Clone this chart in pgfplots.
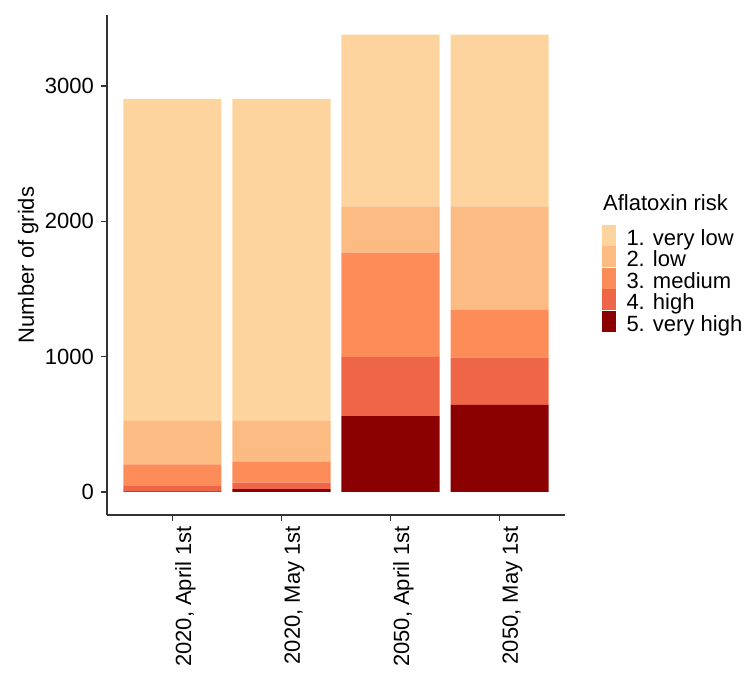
\documentclass[border=0pt]{standalone}
\usepackage{fontspec}
\setmainfont{Liberation Sans}
\usepackage{pgfplots}
\pgfplotsset{compat=1.18}
\definecolor{cVL}{HTML}{FDD49E}
\definecolor{cL}{HTML}{FDBB84}
\definecolor{cM}{HTML}{FC8D59}
\definecolor{cH}{HTML}{EF6548}
\definecolor{cVH}{HTML}{8B0000}
\definecolor{axcol}{HTML}{333333}
\begin{document}
\fontsize{22pt}{26pt}\selectfont
\begin{tikzpicture}[x=1pt,y=1pt]
\path[use as bounding box] (0,0) rectangle (750,679);
\begin{axis}[
  at={(107pt,164pt)}, anchor=south west,
  scale only axis, width=458pt, height=500pt,
  ybar stacked, bar width=0.9,
  xmin=-0.6, xmax=3.6, ymin=-170, ymax=3525,
  axis x line*=bottom, axis y line*=left,
  axis line style={axcol, line width=1.4pt},
  every tick/.style={axcol, line width=1.2pt},
  tick align=outside, major tick length=6pt,
  xtick={0,1,2,3},
  xticklabels={{2020, April 1st},{2020, May 1st},{2050, April 1st},{2050, May 1st}},
  ytick={0,1000,2000,3000},
  /pgf/number format/assume math mode=true,
  /pgf/number format/1000 sep={},
  tick label style={font=\fontsize{22pt}{26pt}\selectfont, text=black},
  xticklabel style={xshift=13pt, yshift=-5pt, rotate=90, anchor=east, inner sep=0pt},
  yticklabel style={anchor=east, inner sep=0pt, xshift=-7pt},
  ylabel={Number of grids},
  every axis y label/.style={at={(axis description cs:0,0.5)}, xshift=-73pt, rotate=90, anchor=base, font=\fontsize{22pt}{26pt}\selectfont},
  reverse legend,
  legend cell align=left,
  legend image code/.code={\fill[#1] (0pt,-10pt) rectangle (14pt,11pt);},
  legend style={at={(axis description cs:1.0808,0.58)}, anchor=north west, draw=none, fill=none,
    inner sep=0pt, outer sep=0pt, row sep=0pt,
    font=\fontsize{22pt}{26pt}\selectfont,
    nodes={inner sep=0pt, text height=20pt, text depth=1pt},
    /tikz/every odd column/.append style={column sep=10.5pt}},
]
\addplot[fill=cVH, draw=none] coordinates {(0,5) (1,22) (2,561) (3,644)};
\addplot[fill=cH, draw=none] coordinates {(0,39) (1,47) (2,437) (3,349)};
\addplot[fill=cM, draw=none] coordinates {(0,161) (1,153) (2,770) (3,353)};
\addplot[fill=cL, draw=none] coordinates {(0,320) (1,303) (2,343) (3,765)};
\addplot[fill=cVL, draw=none] coordinates {(0,2381) (1,2381) (2,1269) (3,1269)};
\legend{5. very high, 4. high, 3. medium, 2. low, 1. very low}
\end{axis}
\node[anchor=base west, inner sep=0pt] at (603pt,468pt) {Aflatoxin risk};
\end{tikzpicture}
\end{document}
